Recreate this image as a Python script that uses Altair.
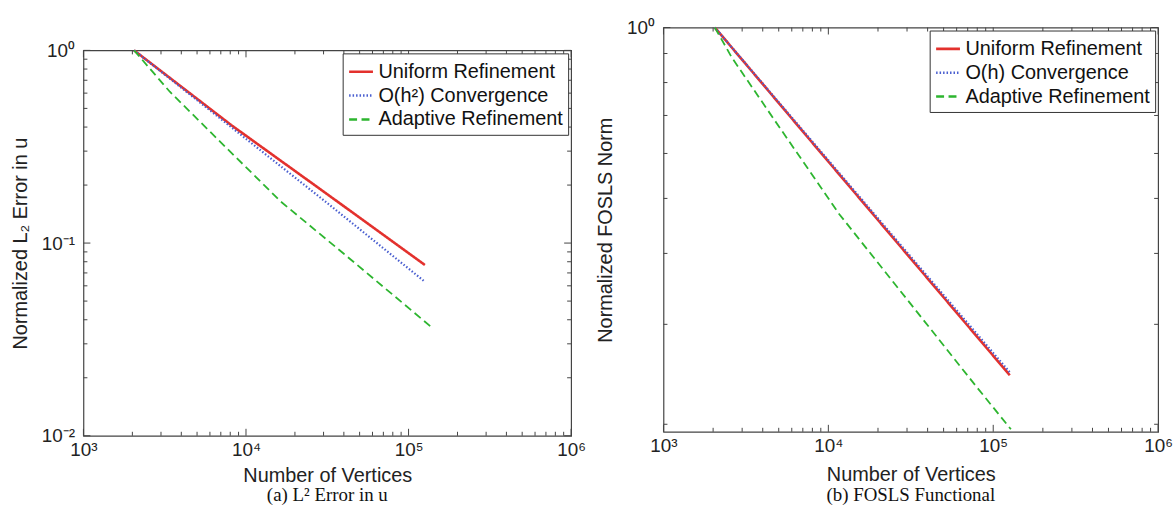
import altair as alt
import pandas as pd

# ---------------- data ----------------
# Panel (a): L2 error in u
a_names = ["Uniform Refinement", "O(h²) Convergence", "Adaptive Refinement"]
a_uniform_n = [2050, 8100, 32000, 126000]
a_uniform_v = [1.0, 0.41, 0.178, 0.077]
a_ref_n = [2050, 8100, 32000, 126000]
a_ref_v = [1.0, 0.40, 0.16, 0.063]
a_adapt_n = [2050, 3400, 7000, 16400, 40000, 139000]
a_adapt_v = [1.0, 0.61, 0.333, 0.164, 0.088, 0.0365]

# Panel (b): FOSLS functional
b_names = ["Uniform Refinement", "O(h) Convergence", "Adaptive Refinement"]
b_uniform_n = [2050, 8100, 32000, 126000]
b_uniform_v = [1.0, 0.624, 0.390, 0.244]
b_ref_n = [2050, 8100, 32000, 126000]
b_ref_v = [1.0, 0.627, 0.393, 0.247]
b_adapt_n = [2050, 2600, 5000, 11650, 30000, 79000, 128000]
b_adapt_v = [1.0, 0.885, 0.67, 0.469, 0.332, 0.233, 0.196]

# axis ticks / labels
x_major = [1e3, 1e4, 1e5, 1e6]
x_labels = ["10³", "10⁴", "10⁵", "10⁶"]
x_minor = [2e3, 3e3, 4e3, 5e3, 6e3, 7e3, 8e3, 9e3,
           2e4, 3e4, 4e4, 5e4, 6e4, 7e4, 8e4, 9e4,
           2e5, 3e5, 4e5, 5e5, 6e5, 7e5, 8e5, 9e5]
a_y_major = [0.01, 0.1, 1.0]
a_y_labels = ["10⁻²", "10⁻¹", "10⁰"]
a_y_minor = [0.02, 0.03, 0.04, 0.05, 0.06, 0.07, 0.08, 0.09,
             0.2, 0.3, 0.4, 0.5, 0.6, 0.7, 0.8, 0.9]
b_y_major = [1.0]
b_y_labels = ["10⁰"]
b_y_minor = [0.2, 0.3, 0.4, 0.5, 0.6, 0.7, 0.8, 0.9]

colors = ["#e3312d", "#4a5fd0", "#2db52f"]
dashes = [[1, 0], [1.5, 2], [8, 4.5]]
widths = [2.6, 1.8, 3.2]

FONT = "Liberation Sans"
SERIF = "Liberation Serif"
AX = "#444444"


def label_expr(vals, labels):
    parts = []
    for v, l in zip(vals, labels):
        parts.append(f"abs(datum.value - {v}) < {v} * 1e-6 ? '{l}' : ")
    return "".join(parts) + "''"


def panel(names, series, ydom, y_major, y_labels, y_minor, ytitle, caption,
          w, h, cap_off, x_title_pad):
    rows = []
    for name, (ns, vs) in zip(names, series):
        for n, v in zip(ns, vs):
            rows.append({"N": n, "v": v, "series": name})
    df = pd.DataFrame(rows)

    xscale = alt.Scale(type="log", domain=[1e3, 1e6], nice=False)
    yscale = alt.Scale(type="log", domain=ydom, nice=False)
    xaxis = alt.Axis(values=x_major, labelExpr=label_expr(x_major, x_labels),
                     title="Number of Vertices", labelFlush=False,
                     labelPadding=5, titlePadding=x_title_pad, labelOverlap=False,
                     domain=False, ticks=False, grid=False,
                     labelFont=FONT, labelFontSize=19, labelColor="#222",
                     titleFont=FONT, titleFontSize=20, titleFontWeight="normal",
                     titleColor="#222")
    yaxis = alt.Axis(values=y_major, labelExpr=label_expr(y_major, y_labels),
                     title=ytitle, labelPadding=9, titlePadding=11,
                     labelOverlap=False,
                     domain=False, ticks=False, grid=False,
                     labelFont=FONT, labelFontSize=19, labelColor="#222",
                     titleFont=FONT, titleFontSize=20, titleFontWeight="normal",
                     titleColor="#222")

    def X(field):
        return alt.X(field, scale=xscale, axis=xaxis, title="Number of Vertices")

    def Y(field):
        return alt.Y(field, scale=yscale, axis=yaxis, title=ytitle)

    leg = alt.Legend(title=None, orient="top-right", offset=3,
                     symbolType="stroke", symbolSize=576, symbolStrokeWidth=2.6,
                     labelFont=FONT, labelFontSize=20, labelColor="#111",
                     labelLimit=0,
                     strokeColor="#333", fillColor="white", padding=5,
                     rowPadding=0, labelOffset=4, cornerRadius=0)

    lines = alt.Chart(df).mark_line().encode(
        x=X("N:Q"), y=Y("v:Q"),
        color=alt.Color("series:N", scale=alt.Scale(domain=names, range=colors),
                        legend=leg, sort=names),
        strokeDash=alt.StrokeDash("series:N",
                                  scale=alt.Scale(domain=names, range=dashes),
                                  legend=leg, sort=names),
        strokeWidth=alt.StrokeWidth("series:N",
                                    scale=alt.Scale(domain=names, range=widths),
                                    legend=None),
        order="N:Q",
    )

    layers = [lines]
    for vals, ln in ((x_major, 7), (x_minor, 4)):
        tdf = pd.DataFrame({"t": vals})
        layers.append(alt.Chart(tdf).mark_rule(color=AX, strokeWidth=1).encode(
            x=X("t:Q"), y=alt.value(h), y2=alt.value(h - ln)))
        layers.append(alt.Chart(tdf).mark_rule(color=AX, strokeWidth=1).encode(
            x=X("t:Q"), y=alt.value(0), y2=alt.value(ln)))
    for vals, ln in ((y_major, 7), (y_minor, 4)):
        tdf = pd.DataFrame({"t": vals})
        layers.append(alt.Chart(tdf).mark_rule(color=AX, strokeWidth=1).encode(
            y=Y("t:Q"), x=alt.value(0), x2=alt.value(ln)))
        layers.append(alt.Chart(tdf).mark_rule(color=AX, strokeWidth=1).encode(
            y=Y("t:Q"), x=alt.value(w), x2=alt.value(w - ln)))

    cap = alt.Chart(pd.DataFrame({"c": [caption]})).mark_text(
        font=SERIF, fontSize=19, color="#111", baseline="middle", align="center"
    ).encode(x=alt.value(w / 2), y=alt.value(h + cap_off), text="c:N")
    layers.append(cap)

    return alt.layer(*layers).properties(width=w, height=h).resolve_scale(
        color="independent", strokeDash="independent")


left = panel(a_names,
             [(a_uniform_n, a_uniform_v), (a_ref_n, a_ref_v), (a_adapt_n, a_adapt_v)],
             [0.01, 1.0], a_y_major, a_y_labels, a_y_minor,
             "Normalized L₂ Error in u", "(a) L² Error in u",
             491, 388, 60, 6)
right = panel(b_names,
              [(b_uniform_n, b_uniform_v), (b_ref_n, b_ref_v), (b_adapt_n, b_adapt_v)],
              [0.194, 1.0], b_y_major, b_y_labels, b_y_minor,
              "Normalized FOSLS Norm", "(b) FOSLS Functional",
              498, 407, 64, 9)

spacer = alt.Chart(pd.DataFrame({"a": [0]})).mark_point(opacity=0).encode(
    x=alt.value(0), y=alt.value(0)
).properties(width=491, height=13, view=alt.ViewBackground(stroke=None))

left_col = alt.vconcat(spacer, left, spacing=0)

chart = alt.hconcat(left_col, right, spacing=8).resolve_scale(
    x="independent", y="independent", color="independent",
    strokeDash="independent", strokeWidth="independent"
).properties(
    padding={"left": 9, "top": 16, "right": 0, "bottom": 0},
    background="white"
).configure_view(
    stroke=AX, strokeWidth=1.2
)

chart.save("out.html", embed_options={"renderer": "svg", "actions": False})
